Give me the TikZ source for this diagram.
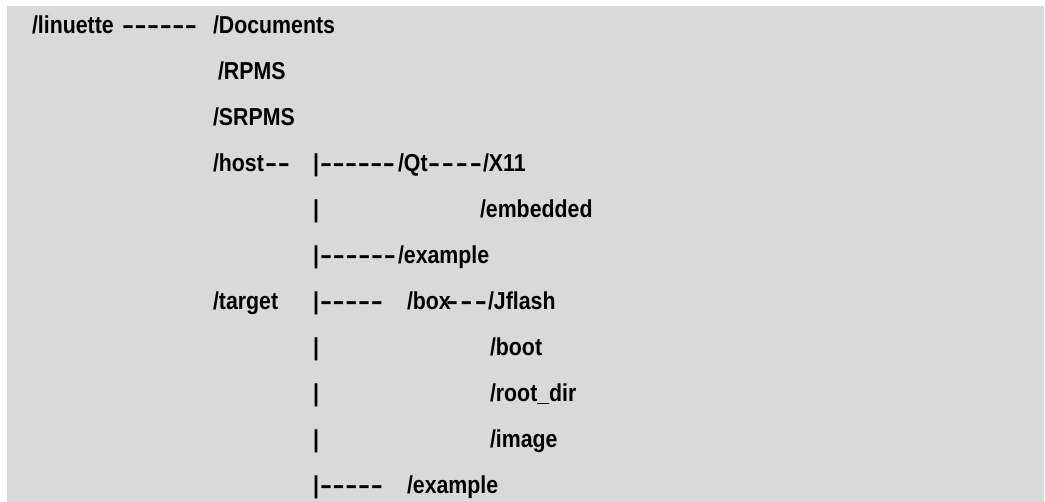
\documentclass[tikz,border=0pt]{standalone}
\usepackage{fontspec}
\setmainfont{Liberation Sans}[FakeStretch=0.87]
\definecolor{bgc}{RGB}{217,217,217}
\newcommand\hy{\scalebox{1.7}[1]{-}}
\newcommand\dashrun[2]{\makebox[#1pt][s]{#2}}
\begin{document}
\begin{tikzpicture}[x=1pt,y=-1pt,
  t/.style={anchor=base west,inner sep=0pt,outer sep=0pt,font=\fontsize{24.5}{28}\selectfont\bfseries}]
\useasboundingbox (0,0) rectangle (1045,502);
\fill[bgc] (7,6) rectangle (1044,502);
% row 0
\node[t] (linuette) at (32,34) {/linuette};
\node[t] (d0) at (122,34) {\dashrun{75}{\hy\hfill\hy\hfill\hy\hfill\hy\hfill\hy\hfill\hy}};
\node[t] (documents) at (213,34) {/Documents};
% row 1
\node[t] (rpms) at (218,80) {/RPMS};
% row 2
\node[t] (srpms) at (213,126) {/SRPMS};
% row 3
\node[t] (host) at (213,172) {/host};
\node[t] (d3a) at (265,172) {\dashrun{25}{\hy\hfill\hy}};
\node[t] (b3) at (313,172) {|};
\node[t] (d3b) at (320,172) {\dashrun{75}{\hy\hfill\hy\hfill\hy\hfill\hy\hfill\hy\hfill\hy}};
\node[t] (qt) at (398,172) {/Qt};
\node[t] (d3c) at (428,172) {\dashrun{54}{\hy\hfill\hy\hfill\hy\hfill\hy}};
\node[t] (x11) at (483,172) {/X11};
% row 4
\node[t] (b4) at (313,218) {|};
\node[t] (embedded) at (480,218) {/embedded};
% row 5
\node[t] (b5) at (313,264) {|};
\node[t] (d5) at (320,264) {\dashrun{76}{\hy\hfill\hy\hfill\hy\hfill\hy\hfill\hy\hfill\hy}};
\node[t] (example1) at (398,264) {/example};
% row 6
\node[t] (target) at (213,310) {/target};
\node[t] (b6) at (313,310) {|};
\node[t] (d6a) at (320,310) {\dashrun{63}{\hy\hfill\hy\hfill\hy\hfill\hy\hfill\hy}};
\node[t] (box) at (407,310) {/box};
\node[t] (d6b) at (446,310) {\dashrun{41}{\hy\hfill\hy\hfill\hy}};
\node[t] (jflash) at (488,310) {/Jflash};
% row 7
\node[t] (b7) at (313,356) {|};
\node[t] (boot) at (490,356) {/boot};
% row 8
\node[t] (b8) at (313,402) {|};
\node[t] (rootdir) at (490,402) {/root\_dir};
% row 9
\node[t] (b9) at (313,448) {|};
\node[t] (image) at (490,448) {/image};
% row 10
\node[t] (b10) at (313,494) {|};
\node[t] (d10) at (320,494) {\dashrun{63}{\hy\hfill\hy\hfill\hy\hfill\hy\hfill\hy}};
\node[t] (example2) at (407,494) {/example};
\end{tikzpicture}
\end{document}
